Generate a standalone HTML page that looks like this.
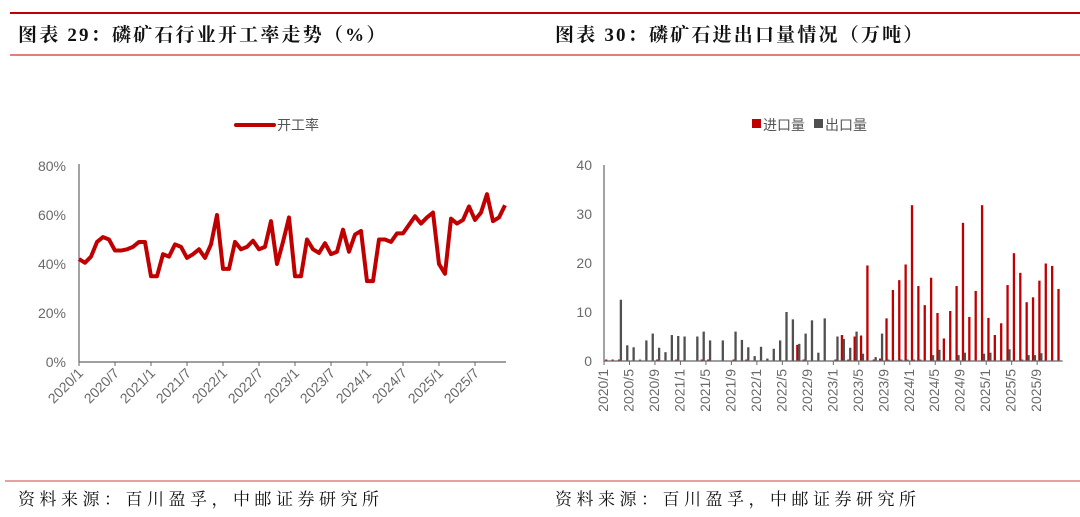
<!DOCTYPE html>
<html><head><meta charset="utf-8">
<style>
html,body{margin:0;padding:0;background:#fff;}
svg{display:block;}
.t{font-family:"Liberation Serif","Noto Serif CJK SC",serif;font-weight:bold;font-size:19px;fill:#111;letter-spacing:2.2px;}
.f{font-family:"Liberation Serif","Noto Serif CJK SC",serif;font-size:17px;fill:#111;letter-spacing:4.5px;}
.ax{font-family:"Liberation Sans","Noto Sans CJK SC",sans-serif;font-size:14px;fill:#6a6a6a;}
.lg{font-family:"Liberation Sans","Noto Sans CJK SC",sans-serif;font-size:14px;fill:#555;}
</style></head>
<body>
<svg id="root" width="1080" height="517" viewBox="0 0 1080 517">
<line x1="10" y1="13" x2="1080" y2="13" stroke="#c00000" stroke-width="2"/>
<line x1="10" y1="55" x2="1080" y2="55" stroke="#c00000" stroke-width="1"/>
<line x1="5" y1="481" x2="1080" y2="481" stroke="#d04040" stroke-width="1"/>
<text class="t" x="18" y="41">图表 29：磷矿石行业开工率走势（%）</text>
<text class="t" x="555" y="41">图表 30：磷矿石进出口量情况（万吨）</text>
<text class="f" x="18" y="505">资料来源：百川盈孚，中邮证券研究所</text>
<text class="f" x="555" y="505">资料来源：百川盈孚，中邮证券研究所</text>
<g>
<line x1="236" y1="125" x2="274" y2="125" stroke="#c00000" stroke-width="4" stroke-linecap="round"/>
<text class="lg" x="277" y="130">开工率</text>
</g>
<g>
<rect x="752" y="119" width="9" height="9" fill="#c00000"/>
<text class="lg" x="763" y="130">进口量</text>
<rect x="814" y="119" width="9" height="9" fill="#505050"/>
<text class="lg" x="825" y="130">出口量</text>
</g>
<g id="left"></g>
<g id="right"></g>
</svg>
<script>
const rateValues = [42,40.5,43,49,51,50,45.5,45.5,46,47,49,49,
35,35,44,43,48,47,42.5,44,46,42.5,48,60,
38,38,49,46,47,49.5,46,47,57.5,40,49,59,
35,35,50,46,44.5,48.5,44,45,54,45,52,53.5,
33,33,50,50,49,52.5,52.5,56,59.5,56.5,59,61,
40,36,58.5,56.5,58,63.5,58,61,68.5,57.5,59,64];
const rateTicks = [0,20,40,60,80];
const importValues = [0.3,0.3,0.3,0,0,0,0,0,0.3,0,0,0.3,0,0,0,0.3,0.3,0,0,0,0.3,0,0.3,0,0,0,0,0,0,0,3.3,0.3,0,0,0,0,0.3,5.3,0.3,5,5.2,19.5,0.3,0.5,8.7,14.5,16.5,19.7,31.8,15.3,11.4,17,9.8,4.6,10.2,15.3,28.2,9,14.3,31.8,8.8,5.3,7.7,15.5,22,18,12,13,16.4,19.9,19.4,14.7];
const exportValues = [0,0,12.5,3.2,2.8,0.3,4.2,5.6,2.7,1.8,5.3,5.1,5,0,5,6,4.2,0,4.2,0,6,4.3,2.8,1,2.9,0.5,2.5,4.2,10,8.5,3.5,5.6,8.3,1.7,8.7,0,5,4.5,2.7,6,1.5,0,0.8,5.6,0.3,0,0.3,0.3,0.3,0.3,0,1.2,2.3,0,0,1.2,1.7,0,0,1.5,1.7,0,0,2.4,0,0.3,1.2,1.2,1.6,0,0,0];
const barTicks = [0,10,20,30,40];
const NS='http://www.w3.org/2000/svg';
function mk(tag,attrs,parent,txt){const e=document.createElementNS(NS,tag);for(const k in attrs)e.setAttribute(k,attrs[k]);if(txt!==undefined)e.textContent=txt;parent.appendChild(e);return e;}
function monthLabel(i){return (2020+Math.floor(i/12))+'/'+(i%12+1);}
// Left chart
const L=document.getElementById('left');
const lx0=79, lstep=6, ly0=362, ly1=166;
const lx=i=>lx0+i*lstep;
const ly=v=>ly0-(v/80)*(ly0-ly1);
rateTicks.forEach(t=>{
 const e=mk('text',{class:'ax',x:66,y:ly(t)+5,'text-anchor':'end'},L,t+'%');
 
 
});
const lxa=mk('line',{x1:lx0,y1:ly0,x2:lx(71)+1,y2:ly0,stroke:'#666','stroke-width':1.2},L);


const lya=mk('line',{x1:lx0,y1:ly1-2,x2:lx0,y2:ly0,stroke:'#666','stroke-width':1.2},L);


for(let i=0;i<72;i+=6){
 mk('line',{x1:lx(i),y1:ly0,x2:lx(i),y2:ly0+4,stroke:'#666'},L);
 const e=mk('text',{class:'ax',x:lx(i)+5,y:ly0+12,'text-anchor':'end',transform:`rotate(-45 ${lx(i)+5} ${ly0+12})`},L,monthLabel(i));
 
 
}
const pts=rateValues.map((v,i)=>lx(i)+','+ly(v)).join(' ');
const pl=mk('polyline',{points:pts,fill:'none',stroke:'#c00000','stroke-width':4,'stroke-linejoin':'round'},L);


// Right chart
const R=document.getElementById('right');
const rx0=604, rstep=6.37, ry0=361, ry1=165;
const rx=i=>rx0+i*rstep;
const ry=v=>ry0-(v/40)*(ry0-ry1);
barTicks.forEach(t=>{
 const e=mk('text',{class:'ax',x:592,y:ry(t)+5,'text-anchor':'end'},R,String(t));
 
 
});
importValues.forEach((v,i)=>{
 if(v<=0)return;
 const b=mk('rect',{x:rx(i)+1.1,y:ry(v),width:2.3,height:ry0-ry(v),fill:'#c00000'},R);
 
 
});
exportValues.forEach((v,i)=>{
 if(v<=0)return;
 const b=mk('rect',{x:rx(i)+3,y:ry(v),width:2.3,height:ry0-ry(v),fill:'#505050'},R);
 
 
});
const rxa=mk('line',{x1:rx0,y1:ry0,x2:rx(72),y2:ry0,stroke:'#666','stroke-width':1.2},R);


const rya=mk('line',{x1:rx0,y1:ry1,x2:rx0,y2:ry0,stroke:'#666','stroke-width':1.2},R);


for(let i=0;i<72;i+=4){
 mk('line',{x1:rx(i),y1:ry0,x2:rx(i),y2:ry0+4,stroke:'#666'},R);
 const cx=rx(i)+4;
 const e=mk('text',{class:'ax',x:cx,y:ry0+8,'text-anchor':'end',transform:`rotate(-90 ${cx} ${ry0+8})`},R,monthLabel(i));
 
 
}
</script>
</body></html>
